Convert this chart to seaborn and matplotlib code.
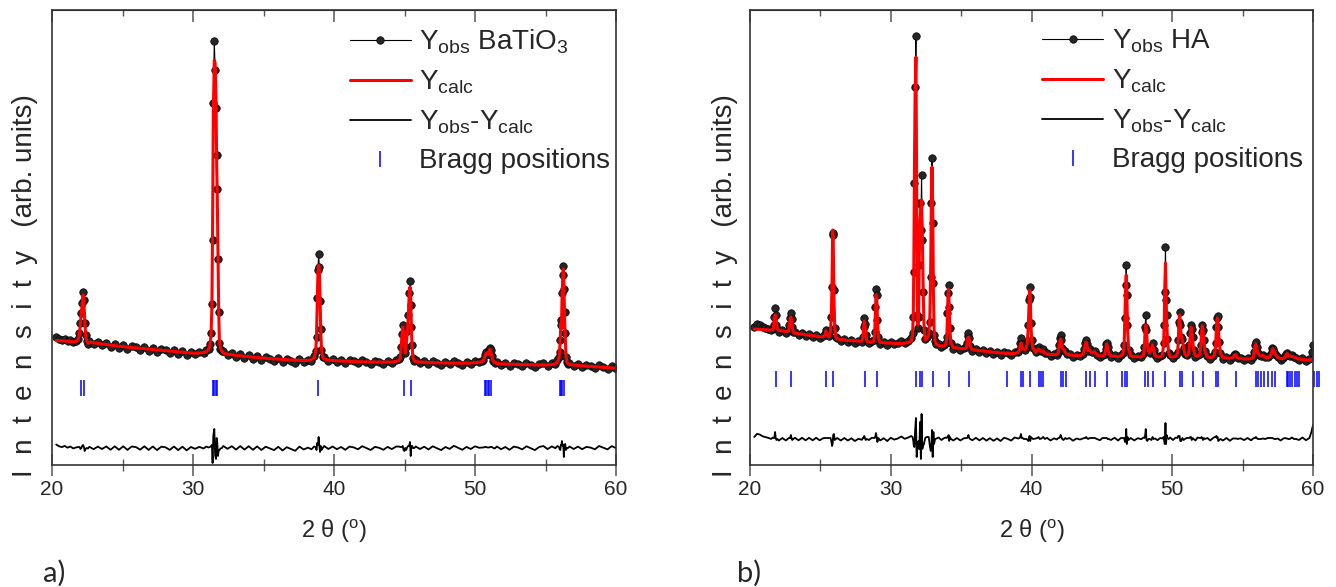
import numpy as np
import matplotlib
matplotlib.use("Agg")
import matplotlib.pyplot as plt
from matplotlib.ticker import MultipleLocator
import seaborn as sns

# ---- a) BaTiO3 : 2theta, observed, calculated (arb. units) ----
a_tth = [20.3, 20.5, 20.7, 20.9, 21.1, 21.3, 21.5, 21.7,
         21.85, 21.95, 22.02, 22.08, 22.14, 22.2, 22.26, 22.32, 22.38, 22.45, 22.55,
         22.65, 22.95, 23.25, 23.55, 23.85, 24.15, 24.45, 24.75, 25.05, 25.35, 25.65, 25.95, 26.25, 26.55, 26.85,
         27.15, 27.45, 27.75, 28.05, 28.35, 28.65, 28.95, 29.25, 29.55, 29.85, 30.15, 30.45, 30.75, 30.95,
         31.1, 31.2, 31.28, 31.34, 31.39, 31.44, 31.51, 31.57, 31.63, 31.68, 31.72, 31.77, 31.82, 31.87, 31.95, 32.05,
         32.15, 32.45, 32.75, 33.05, 33.35, 33.65, 33.95, 34.25, 34.55, 34.85, 35.15, 35.45, 35.75, 36.05, 36.35,
         36.65, 36.95, 37.25, 37.55, 37.85, 38.15, 38.4, 38.6,
         38.7, 38.76, 38.81, 38.86, 38.91, 38.96, 39.01, 39.06, 39.11, 39.2,
         39.3, 39.6, 39.9, 40.2, 40.5, 40.8, 41.1, 41.4, 41.7, 42.0, 42.3, 42.6, 42.9, 43.2, 43.5, 43.8, 44.1, 44.4, 44.6,
         44.7, 44.76, 44.82, 44.87, 44.93, 44.99, 45.05, 45.12, 45.2, 45.27, 45.33, 45.39, 45.44, 45.49, 45.54, 45.6, 45.7,
         45.8, 46.1, 46.4, 46.7, 47.0, 47.3, 47.6, 47.9, 48.2, 48.5, 48.8, 49.1, 49.4, 49.7, 50.0, 50.3, 50.5,
         50.6, 50.7, 50.8, 50.9, 51.0, 51.05, 51.1, 51.2, 51.3, 51.4,
         51.55, 51.85, 52.15, 52.45, 52.75, 53.05, 53.35, 53.65, 53.95, 54.25, 54.55, 54.85, 55.15, 55.45, 55.7, 55.85,
         55.95, 56.0, 56.05, 56.09, 56.13, 56.17, 56.22, 56.26, 56.3, 56.35, 56.4, 56.45, 56.52, 56.6,
         56.7, 57.0, 57.3, 57.6, 57.9, 58.2, 58.5, 58.8, 59.1, 59.4, 59.7, 59.95]
a_obs = [128, 126, 125, 126, 124, 125, 123, 124,
         126, 132, 142, 152, 162, 173, 165, 142, 130, 124, 121,
         124, 121, 123, 120, 122, 118, 121, 117, 120, 116, 119, 118, 115, 118, 114,
         117, 113, 116, 115, 112, 115, 111, 114, 110, 113, 111, 113, 112, 115,
         116, 121, 132, 161, 225, 362, 424, 395, 357, 310, 276, 206, 153, 122, 116, 114,
         114, 110, 112, 108, 111, 107, 110, 106, 109, 105, 108, 106, 104, 107, 103,
         106, 104, 102, 106, 103, 105, 104, 109,
         114, 128, 167, 195, 211, 198, 164, 136, 115, 108,
         108, 104, 106, 103, 105, 102, 105, 104, 102, 105, 103, 101, 104, 103, 101, 104, 102, 105, 106,
         108, 118, 131, 140, 132, 118, 112, 118, 134, 150, 172, 184, 160, 138, 120, 107, 104,
         105, 102, 104, 101, 104, 102, 100, 103, 101, 104, 102, 100, 103, 101, 104, 103, 104,
         105, 110, 113, 111, 115, 117, 115, 109, 104, 102,
         103, 100, 102, 99, 102, 101, 99, 102, 100, 98, 101, 102, 99, 102, 101, 105,
         108, 113, 125, 145, 140, 172, 190, 199, 176, 153, 132, 108, 103, 101,
         102, 99, 101, 98, 100, 99, 97, 100, 98, 96, 99, 97]
a_calc = [124.5, 124.3, 124.1, 123.9, 123.7, 123.5, 123.4, 123.5,
          125, 131, 143, 152, 160, 170, 164, 145, 131, 124, 121.5,
          122.8, 122.2, 121.6, 121.0, 120.4, 119.8, 119.3, 118.8, 118.3, 117.9, 117.5, 117.1, 116.7, 116.3, 115.9,
          115.5, 115.1, 114.7, 114.3, 113.9, 113.5, 113.1, 112.7, 112.3, 112.0, 111.8, 111.9, 112.5, 113.5,
          115.5, 120, 130, 158, 240, 350, 405, 402, 368, 300, 270, 214, 156, 124, 116.5, 114,
          112, 110.8, 110.2, 109.6, 109.1, 108.6, 108.2, 107.8, 107.4, 107.0, 106.7, 106.4, 106.1, 105.8, 105.5,
          105.2, 105.0, 104.8, 104.6, 104.5, 104.6, 105.3, 107.5,
          113, 130, 162, 192, 200, 196, 168, 134, 117, 108,
          106, 105, 104.5, 104.2, 104, 103.8, 103.6, 103.4, 103.3, 103.2, 103.1, 103.0, 102.9, 102.8, 102.8, 102.9, 103.1, 103.6, 104.5,
          107, 117, 130, 138, 134, 121, 112, 120, 133, 148, 170, 178, 168, 136, 118, 107, 104,
          103.5, 103, 102.7, 102.5, 102.3, 102.2, 102.1, 102.0, 101.9, 101.8, 101.8, 101.8, 101.9, 102.0, 102.3, 102.8, 103.5,
          104.5, 109, 112, 110.5, 114.5, 116, 114, 108, 104, 102.5,
          101.5, 101.2, 101.0, 100.8, 100.6, 100.5, 100.4, 100.3, 100.2, 100.1, 100.0, 100.0, 100.1, 100.4, 101.2, 103,
          107, 114, 127, 142, 137, 165, 188, 196, 185, 150, 128, 110, 103, 101,
          100.5, 100, 99.6, 99.2, 98.9, 98.6, 98.3, 98.0, 97.7, 97.4, 97.1, 96.8]
a_bragg = [22.04, 22.27, 31.45, 31.52, 31.6, 31.68, 38.9, 44.94, 45.44,
           50.7, 50.8, 50.9, 51.0, 51.15, 56.0, 56.1, 56.2, 56.32]

# ---- b) HA : 2theta, observed, calculated (arb. units) ----
b_tth = [20.3, 20.5, 20.7, 20.9, 21.1, 21.3, 21.5, 21.62,
         21.68, 21.73, 21.78, 21.83, 21.88, 21.95,
         22.05, 22.3, 22.55, 22.75,
         22.8, 22.85, 22.9, 22.95, 23.0, 23.07,
         23.2, 23.45, 23.7, 23.95, 24.2, 24.45, 24.7, 24.95, 25.2,
         25.32, 25.4, 25.48, 25.6, 25.72, 25.78, 25.83, 25.87, 25.91, 25.96, 26.02, 26.1,
         26.2, 26.45, 26.7, 26.95, 27.2, 27.45, 27.7, 27.95,
         28.02, 28.07, 28.12, 28.17, 28.22, 28.3,
         28.45, 28.65, 28.8,
         28.86, 28.91, 28.95, 29.0, 29.05, 29.12,
         29.25, 29.5, 29.75, 30.0, 30.25, 30.5, 30.75, 31.0, 31.25, 31.45,
         31.55, 31.6, 31.64, 31.68, 31.73, 31.79, 31.84, 31.89, 31.93,
         31.98, 32.03, 32.08, 32.14, 32.19, 32.24, 32.3, 32.36, 32.45, 32.55,
         32.7, 32.78, 32.84, 32.89, 32.93, 32.98, 33.03, 33.08, 33.15, 33.25,
         33.4, 33.6, 33.8, 33.92,
         33.98, 34.03, 34.07, 34.11, 34.15, 34.2, 34.28,
         34.45, 34.7, 34.95, 35.2, 35.35,
         35.42, 35.47, 35.52, 35.57, 35.64,
         35.8, 36.05, 36.3, 36.55, 36.8, 37.05, 37.3, 37.55, 37.8, 38.05, 38.3, 38.55, 38.8, 39.05,
         39.15, 39.2, 39.25, 39.3, 39.37, 39.45,
         39.55, 39.65, 39.72, 39.78, 39.83, 39.87, 39.91, 39.96, 40.02, 40.1,
         40.3, 40.42, 40.5, 40.58, 40.7, 40.83, 40.95,
         41.1, 41.35, 41.6, 41.8,
         41.9, 41.98, 42.03, 42.07, 42.12, 42.18, 42.27, 42.4, 42.5,
         42.7, 42.95, 43.2, 43.45, 43.65,
         43.75, 43.82, 43.88, 43.94, 44.02, 44.14, 44.3, 44.5, 44.65,
         44.85, 45.05, 45.2,
         45.27, 45.31, 45.35, 45.4, 45.48,
         45.65, 45.9, 46.15, 46.35, 46.5,
         46.58, 46.64, 46.69, 46.73, 46.77, 46.82, 46.9,
         47.05, 47.3, 47.55, 47.8, 47.95,
         48.02, 48.07, 48.12, 48.17, 48.23, 48.3, 48.4, 48.52, 48.6, 48.68, 48.78,
         48.95, 49.15, 49.3,
         49.38, 49.43, 49.47, 49.52, 49.56, 49.6, 49.66, 49.75,
         49.85, 50.05, 50.25, 50.38,
         50.42, 50.47, 50.52, 50.57, 50.63, 50.72, 50.8, 50.9,
         51.02, 51.15,
         51.22, 51.28, 51.33, 51.38, 51.44, 51.52,
         51.65, 51.8, 51.95,
         52.02, 52.08, 52.13, 52.18, 52.24, 52.32,
         52.5, 52.7, 52.9, 53.02,
         53.08, 53.13, 53.18, 53.22, 53.27, 53.33, 53.42,
         53.6, 53.85, 54.1, 54.3,
         54.4, 54.47, 54.55, 54.65,
         54.85, 55.1, 55.35, 55.6, 55.75,
         55.82, 55.88, 55.94, 56.0, 56.08, 56.18, 56.3, 56.45, 56.6,
         56.8, 56.98,
         57.06, 57.12, 57.18, 57.25, 57.35, 57.5,
         57.7, 57.9, 58.02,
         58.1, 58.17, 58.25, 58.35, 58.5, 58.65, 58.8,
         59.0, 59.25, 59.5, 59.75, 59.9, 60.0]
b_obs = [138, 141, 140, 138, 137, 136, 135, 137,
         140, 148, 157, 150, 140, 136,
         133, 135, 132, 135,
         140, 147, 152, 146, 138, 133,
         133, 130, 132, 129, 131, 128, 130, 127, 129,
         131, 135, 131, 129, 135, 148, 178, 230, 232, 175, 137, 128,
         127, 124, 126, 123, 125, 122, 124, 123,
         128, 138, 147, 141, 130, 124,
         122, 124, 125,
         133, 158, 176, 170, 145, 128,
         121, 123, 120, 123, 121, 122, 124, 122, 124, 127,
         132, 148, 193, 282, 378, 429, 262, 150, 137,
         148, 200, 262, 235, 290, 225, 173, 135, 126, 128,
         132, 143, 188, 262, 307, 242, 182, 130, 124, 121,
         121, 118, 120, 122,
         128, 152, 172, 180, 158, 137, 122,
         116, 118, 115, 117, 118,
         122, 129, 132, 127, 119,
         114, 116, 113, 115, 112, 114, 111, 113, 110, 113, 112, 110, 113, 113,
         116, 122, 127, 121, 118, 116,
         115, 118, 124, 140, 165, 178, 168, 142, 125, 117,
         113, 116, 118, 115, 114, 116, 112,
         112, 109, 111, 110,
         113, 120, 127, 130, 125, 117, 115, 114, 111,
         111, 108, 110, 109, 111,
         116, 122, 125, 121, 114, 116, 113, 114, 110,
         108, 110, 111,
         116, 121, 122, 118, 112,
         108, 110, 107, 110, 112,
         120, 147, 180, 200, 170, 140, 115,
         110, 107, 109, 108, 111,
         118, 138, 150, 135, 118, 114, 112, 116, 122, 115, 110,
         107, 109, 110,
         122, 140, 173, 218, 165, 150, 126, 112,
         110, 107, 110, 113,
         125, 143, 153, 140, 128, 126, 117, 111,
         110, 112,
         120, 132, 140, 136, 128, 115,
         108, 110, 111,
         120, 133, 140, 135, 125, 114,
         109, 106, 109, 113,
         122, 138, 147, 149, 138, 123, 112,
         106, 108, 105, 108,
         110, 111, 110, 107,
         107, 105, 107, 105, 108,
         113, 120, 123, 118, 112, 110, 109, 110, 108,
         108, 110,
         113, 117, 116, 113, 110, 108,
         105, 107, 109,
         111, 112, 110, 109, 110, 108, 107,
         105, 107, 104, 106, 113, 120]
b_calc = [136, 135.8, 135.6, 135.3, 135.1, 134.9, 134.9, 135.5,
          139, 147, 150, 149, 141, 136,
          134.5, 134, 133.5, 134,
          139, 146, 148, 145, 139, 133,
          131.8, 131.3, 130.8, 130.3, 129.8, 129.3, 128.8, 128.3, 128.2,
          130, 134, 130, 128, 134, 150, 185, 235, 228, 170, 138, 128,
          126, 125.5, 125, 124.5, 124.3, 124, 123.8, 123.8,
          127, 137, 144, 140, 131, 124,
          123, 122.8, 124,
          132, 155, 170, 168, 148, 127,
          122.5, 122.2, 122, 121.8, 121.6, 121.5, 121.5, 121.8, 122.5, 124,
          130, 150, 200, 290, 370, 408, 280, 160, 140,
          150, 210, 245, 255, 265, 235, 180, 140, 125, 126,
          130, 150, 200, 270, 298, 260, 175, 135, 124, 120.5,
          119.5, 119, 119, 120.5,
          127, 150, 170, 176, 160, 135, 122,
          117.5, 117, 116.5, 116.2, 117,
          121, 127, 128, 126, 119,
          115.3, 114.8, 114.4, 114, 113.6, 113.2, 112.8, 112.4, 112, 111.8, 111.8, 111.6, 111.5, 112.5,
          115, 120, 122, 120, 117, 116,
          115, 118, 125, 142, 163, 175, 170, 140, 124, 117,
          112.5, 115, 116, 115, 113.5, 114, 112,
          110.8, 110.5, 110.3, 110.5,
          112, 119, 125, 126, 123, 117, 116, 113, 111,
          110, 109.7, 109.5, 109.5, 110.5,
          115, 121, 123, 120, 114, 115, 112, 113, 110,
          109.2, 109, 110,
          115, 120, 121, 118, 112,
          109, 108.7, 108.5, 109, 111,
          119, 150, 180, 190, 175, 138, 116,
          109, 108.4, 108.2, 108.2, 109.5,
          117, 135, 140, 136, 120, 114, 112, 117, 120, 115, 109.5,
          108.2, 108, 109.5,
          120, 142, 178, 202, 170, 146, 125, 112,
          108.5, 108, 108.5, 112,
          122, 140, 150, 142, 130, 125, 118, 111,
          109, 111,
          119, 130, 138, 137, 127, 115,
          109.5, 108.5, 110,
          119, 131, 139, 136, 124, 114,
          108, 107.5, 108, 111,
          120, 135, 146, 147, 140, 124, 112,
          107.5, 107, 106.8, 107.5,
          109.5, 110.5, 109.5, 107,
          106.3, 106.1, 106, 106.3, 107.5,
          112, 119, 121, 117, 112, 110, 109, 109.5, 108,
          107, 109,
          112, 116, 115.5, 113, 110, 107.5,
          106.5, 106.5, 108,
          110.5, 111.5, 110, 109, 108.5, 108, 107,
          106, 105.5, 105.2, 105, 105.2, 106]
b_bragg = [21.82, 22.89, 25.4, 25.87, 28.17, 29.0, 31.79, 32.07, 32.24, 32.98, 34.13, 35.53,
           38.25, 39.25, 39.37, 39.89, 40.5, 40.65, 40.83, 42.07, 42.27, 42.42, 43.88, 44.14,
           44.5, 45.35, 46.45, 46.63, 46.78, 48.08, 48.3, 48.64, 49.52, 50.55, 50.72, 51.44,
           52.2, 53.12, 53.24, 54.5, 55.94, 56.1, 56.27, 56.5, 56.8, 57.07, 57.29, 58.12,
           58.24, 58.36, 58.52, 58.71, 58.83, 59.02, 60.1, 60.27, 60.46]

sns.set_style("white")
plt.rcParams["font.family"] = ["Liberation Sans", "DejaVu Sans"]
plt.rcParams["mathtext.fontset"] = "custom"
plt.rcParams["mathtext.rm"] = "Liberation Sans"
plt.rcParams["mathtext.it"] = "Liberation Sans:italic"
plt.rcParams["mathtext.bf"] = "Liberation Sans:bold"


def rietveld_panel(ax, tth, obs, calc, bragg, phase, bragg_y, diff_y, leg_x, ylab_x):
    tth = np.asarray(tth)
    obs = np.asarray(obs, dtype=float)
    calc = np.asarray(calc, dtype=float)

    sns.lineplot(x=tth, y=obs, ax=ax, color="black", lw=0.8, marker="o", ms=5.4,
                 mfc="#262626", mec="black", mew=0.5, estimator=None, sort=False,
                 label=r"Y$_{\mathrm{obs}}$ " + phase)
    sns.lineplot(x=tth, y=calc, ax=ax, color="red", lw=2.2, estimator=None, sort=False,
                 label=r"Y$_{\mathrm{calc}}$")
    sns.lineplot(x=tth, y=obs - calc + diff_y, ax=ax, color="black", lw=1.3,
                 estimator=None, sort=False,
                 label=r"Y$_{\mathrm{obs}}$-Y$_{\mathrm{calc}}$")
    ax.plot(bragg, np.full(len(bragg), bragg_y), ls="none", marker="|", ms=11,
            mew=1.1, color="blue", clip_on=False, label="Bragg positions")

    ax.set_xlim(20, 60)
    ax.set_ylim(0, 455)
    ax.set_yticks([])
    ax.xaxis.set_major_locator(MultipleLocator(10))
    ax.xaxis.set_minor_locator(MultipleLocator(5))
    ax.tick_params(axis="x", which="major", direction="inout", length=16, width=1.1,
                   color="#555555", labelsize=15, pad=3, bottom=True)
    ax.tick_params(axis="x", which="minor", direction="inout", length=9, width=1.0,
                   color="#555555", bottom=True)
    top = ax.secondary_xaxis("top")
    top.xaxis.set_major_locator(MultipleLocator(10))
    top.xaxis.set_minor_locator(MultipleLocator(5))
    top.tick_params(axis="x", which="major", direction="in", length=8.5, width=1.1,
                    color="#555555", labeltop=False)
    top.tick_params(axis="x", which="minor", direction="in", length=4, width=1.0,
                    color="#555555")
    for s in ax.spines.values():
        s.set_color("#333333")
        s.set_linewidth(1.2)

    ax.set_xlabel(r"2 θ ($^{\mathrm{o}}$)", fontsize=17, labelpad=13)
    ax.set_ylabel("I  n  t  e  n  s  i  t  y   (arb. units)", fontsize=20)
    ax.yaxis.set_label_coords(ylab_x, 0.395)

    ax.legend(loc="upper left", bbox_to_anchor=(leg_x, 0.962), frameon=False,
              fontsize=20, handlelength=2.2, handletextpad=0.3, labelspacing=0.45,
              borderpad=0, borderaxespad=0)


fig = plt.figure(figsize=(13.36, 5.87), dpi=100)
ax_a = fig.add_axes([52 / 1336, 122 / 587, 564 / 1336, 455 / 587])
ax_b = fig.add_axes([750 / 1336, 122 / 587, 563 / 1336, 455 / 587])

rietveld_panel(ax_a, a_tth, a_obs, a_calc, a_bragg, r"BaTiO$_3$", 77.5, 17, 0.528, -0.025)
rietveld_panel(ax_b, b_tth, b_obs, b_calc, b_bragg, "HA", 86.5, 26, 0.519, -0.021)

fig.text(43 / 1336, 5 / 587, "a)", fontsize=21, family=["Lato", "DejaVu Sans"], va="baseline")
fig.text(737 / 1336, 5 / 587, "b)", fontsize=21, family=["Lato", "DejaVu Sans"], va="baseline")

fig.savefig("out.png", dpi=100)
